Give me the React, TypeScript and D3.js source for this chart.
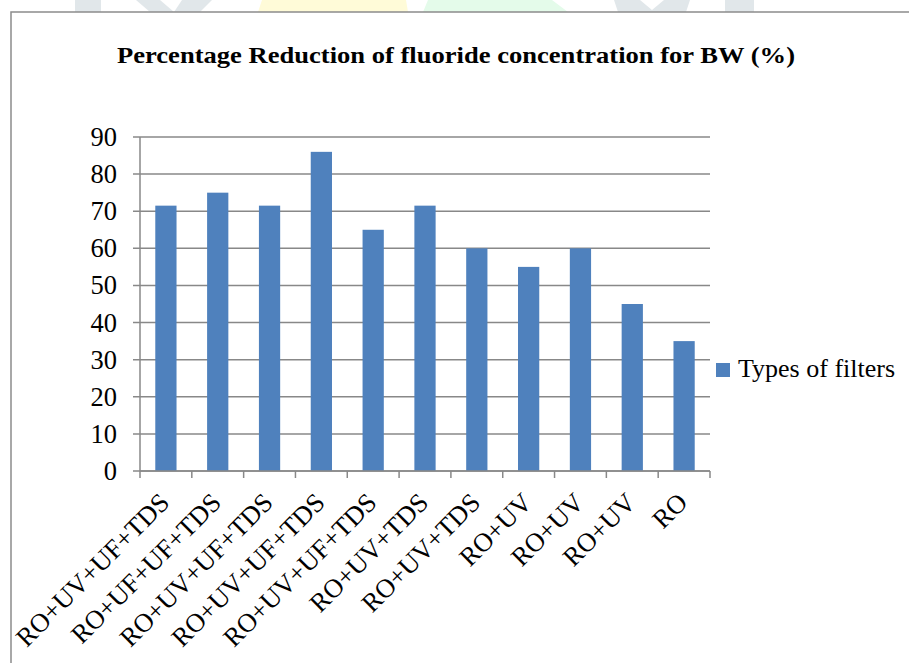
import React from "react";
import * as d3 from "d3";

const categories = [
  "RO+UV+UF+TDS",
  "RO+UF+UF+TDS",
  "RO+UV+UF+TDS",
  "RO+UV+UF+TDS",
  "RO+UV+UF+TDS",
  "RO+UV+TDS",
  "RO+UV+TDS",
  "RO+UV",
  "RO+UV",
  "RO+UV",
  "RO",
];
const values = [71.5, 75, 71.5, 86, 65, 71.5, 60, 55, 60, 45, 35];
const yTicks = [0, 10, 20, 30, 40, 50, 60, 70, 80, 90];
const seriesName = "Types of filters";
const title = "Percentage Reduction of fluoride concentration for BW (%)";

const W = 909;
const H = 663;
const plot = { left: 140, right: 710, top: 137, bottom: 471 };
const barColor = "#4F81BD";
const gridColor = "#888888";
const serif = "'Liberation Serif', 'Times New Roman', serif";

export default function App() {
  const x = d3
    .scaleBand<number>()
    .domain(categories.map((_, i) => i))
    .range([plot.left, plot.right])
    .paddingInner(0.59)
    .paddingOuter(0.295);
  const band = d3
    .scaleBand<number>()
    .domain(categories.map((_, i) => i))
    .range([plot.left, plot.right]);
  const y = d3.scaleLinear().domain([0, 90]).range([plot.bottom, plot.top]);
  const step = band.step();

  return (
    <svg
      width={W}
      height={H}
      style={{ position: "absolute", left: 0, top: 0, background: "#fff" }}
    >
      {/* faint watermark shapes above the chart frame */}
      <g>
        <rect x={75} y={0} width={26} height={12} fill="#e1e7ea" />
        <polygon points="136,0 160,0 174,12 150,12" fill="#e1e7ea" />
        <polygon points="182,0 212,0 200,12 174,12" fill="#e1e7ea" />
        <polygon points="262,0 406,0 408,12 258,12" fill="#fffbd8" />
        <polygon points="428,0 552,0 568,12 423,12" fill="#e4fbea" />
        <polygon points="614,0 640,0 652,10 664,0 690,0 686,12 618,12" fill="#e1e7ea" />
        <rect x={725} y={0} width={29} height={12} fill="#e1e7ea" />
      </g>

      {/* chart frame */}
      <rect
        x={11}
        y={12}
        width={W + 20}
        height={H + 20}
        fill="#fff"
        stroke="#8c8c8c"
        strokeWidth={1.5}
      />

      {/* title */}
      <text
        x={117}
        y={63}
        textAnchor="start"
        fontFamily={serif}
        fontWeight="bold"
        fontSize={24}
        textLength={678}
        lengthAdjust="spacingAndGlyphs"
        fill="#000"
      >
        {title}
      </text>

      {/* gridlines + y ticks */}
      {yTicks.map((t) => (
        <g key={t}>
          <line
            x1={plot.left - 7}
            x2={plot.right}
            y1={y(t)}
            y2={y(t)}
            stroke={gridColor}
            strokeWidth={1.5}
          />
          <text
            x={117}
            y={y(t) + 9}
            textAnchor="end"
            fontFamily={serif}
            fontSize={26.5}
            fill="#000"
          >
            {t}
          </text>
        </g>
      ))}

      {/* y axis line */}
      <line
        x1={plot.left}
        x2={plot.left}
        y1={plot.top}
        y2={plot.bottom}
        stroke={gridColor}
        strokeWidth={1.5}
      />

      {/* bars */}
      {values.map((v, i) => (
        <rect
          key={i}
          x={x(i)}
          y={y(v)}
          width={x.bandwidth()}
          height={y(0) - y(v)}
          fill={barColor}
        />
      ))}

      {/* x axis + tick marks */}
      <line
        x1={plot.left}
        x2={plot.right}
        y1={plot.bottom}
        y2={plot.bottom}
        stroke={gridColor}
        strokeWidth={1.5}
      />
      {d3.range(categories.length + 1).map((i) => {
        const xx = plot.left + i * step;
        return (
          <line
            key={i}
            x1={xx}
            x2={xx}
            y1={plot.bottom}
            y2={plot.bottom + 7}
            stroke={gridColor}
            strokeWidth={1.5}
          />
        );
      })}

      {/* x labels */}
      {categories.map((c, i) => {
        const cx = (band(i) as number) + step / 2;
        return (
          <text
            key={i}
            transform={`translate(${cx + 5},${504}) rotate(-45)`}
            textAnchor="end"
            fontFamily={serif}
            fontSize={26.5}
            fill="#000"
          >
            {c}
          </text>
        );
      })}

      {/* legend */}
      <rect x={716} y={363} width={14} height={14} fill={barColor} />
      <text x={738} y={377} fontFamily={serif} fontSize={26} fill="#000">
        {seriesName}
      </text>
    </svg>
  );
}
